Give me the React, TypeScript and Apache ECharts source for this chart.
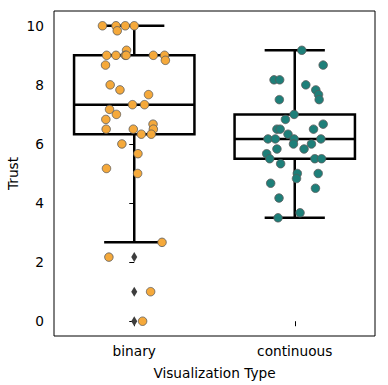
import React, { useEffect, useRef } from "react";
import * as echarts from "echarts";

const categories = ["binary", "continuous"];

const binaryTrust = [
  10, 10, 9.83, 10, 10, 9.17, 9, 9, 9, 9, 9, 9, 8.83, 8.67, 8, 7.83, 7.67, 7.33,
  7.33, 7.17, 7, 6.83, 6.5, 6.67, 6.5, 6.5, 6.33, 6.33, 6, 5.67, 5.17, 5, 2.67,
  2.17, 1, 0,
];
const binaryJitter = [
  -0.198, -0.114, -0.106, -0.056, 0.0, -0.048, -0.172, -0.114, -0.056, -0.05,
  0.119, 0.189, 0.194, -0.179, -0.15, -0.089, 0.089, -0.011, 0.064, -0.154,
  -0.111, -0.177, -0.175, 0.117, 0.119, -0.006, 0.044, 0.106, -0.077, 0.023,
  -0.173, 0.021, 0.173, -0.158, 0.102, 0.052,
];

const continuousTrust = [
  9.17, 8.67, 8.17, 8.17, 8, 7.83, 7.67, 7.5, 7.5, 7, 6.83, 6.67, 6.5, 6.5, 6.5,
  6.33, 6.17, 6.17, 6.17, 6.17, 6, 6, 5.83, 5.83, 5.67, 5.5, 5.5, 5.5, 5.33, 5,
  5, 4.83, 4.67, 4.5, 4.17, 3.67, 3.5,
];
const continuousJitter = [
  0.044, 0.177, -0.129, -0.094, 0.069, 0.131, 0.148, 0.152, -0.096, -0.004,
  -0.058, 0.177, -0.111, -0.091, 0.117, -0.042, -0.167, -0.121, -0.004, 0.163,
  -0.008, 0.104, -0.111, 0.058, -0.175, -0.156, 0.125, 0.167, -0.088, 0.016,
  0.146, 0.011, -0.15, 0.129, -0.098, 0.033, -0.104,
];

const yTicks = [0, 2, 4, 6, 8, 10];

const pointColors = ["#F5A93B", "#1E7F79"];
const FONT = "DejaVu Sans";
const FS = 13.7;

function quantile(sorted: number[], q: number) {
  const pos = (sorted.length - 1) * q;
  const lo = Math.floor(pos);
  const hi = Math.ceil(pos);
  return sorted[lo] + (sorted[hi] - sorted[lo]) * (pos - lo);
}

function boxStats(values: number[]) {
  const s = [...values].sort((a, b) => a - b);
  const q1 = quantile(s, 0.25);
  const med = quantile(s, 0.5);
  const q3 = quantile(s, 0.75);
  const iqr = q3 - q1;
  const lf = q1 - 1.5 * iqr;
  const uf = q3 + 1.5 * iqr;
  const inside = s.filter((v) => v >= lf && v <= uf);
  const low = inside[0];
  const high = inside[inside.length - 1];
  const outliers = s.filter((v) => v < lf || v > uf);
  return { low, q1, med, q3, high, outliers };
}

export default function App() {
  const ref = useRef<HTMLDivElement>(null);

  useEffect(() => {
    if (!ref.current) return;
    document.body.style.margin = "0";
    const chart = echarts.init(ref.current, null, { renderer: "svg" });

    const groups = [binaryTrust, continuousTrust];
    const jitters = [binaryJitter, continuousJitter];
    const stats = groups.map(boxStats);

    const boxData = stats.map((st, i) => [i, st.low, st.q1, st.med, st.q3, st.high]);
    const outlierData: number[][] = [];
    stats.forEach((st, i) => st.outliers.forEach((v) => outlierData.push([i, v])));

    const pointSeries = groups.map((vals, gi) => ({
      type: "scatter",
      xAxisIndex: 1,
      yAxisIndex: 0,
      z: 4,
      symbol: "circle",
      symbolSize: 8.5,
      itemStyle: {
        color: pointColors[gi],
        borderColor: "#595959",
        borderWidth: 0.8,
        opacity: 1,
      },
      data: vals.map((v, k) => [gi + jitters[gi][k], v]),
    }));

    const LW = 2.5;
    const option: any = {
      animation: false,
      grid: {
        left: 54,
        right: 13,
        top: 11,
        bottom: 49,
        containLabel: false,
        outerBoundsMode: "none",
        show: true,
        borderColor: "#000",
        borderWidth: 1,
        backgroundColor: "transparent",
      },
      xAxis: [
        {
          type: "category",
          data: categories,
          boundaryGap: true,
          name: "Visualization Type",
          nameLocation: "middle",
          nameGap: 30,
          nameMoveOverlap: false,
          nameTextStyle: { fontFamily: FONT, fontSize: FS, color: "#000" },
          axisLine: { show: false },
          axisTick: { show: true, alignWithLabel: true, length: 5, lineStyle: { color: "#000" } },
          axisLabel: { fontFamily: FONT, fontSize: FS, color: "#000", margin: 8 },
          splitLine: { show: false },
        },
        {
          type: "value",
          min: -0.5,
          max: 1.5,
          show: false,
          splitLine: { show: false },
        },
      ],
      yAxis: [
        {
          type: "value",
          min: -0.5,
          max: 10.5,
          name: "Trust",
          nameLocation: "middle",
          nameGap: 34,
          nameMoveOverlap: false,
          nameTextStyle: { fontFamily: FONT, fontSize: FS, color: "#000" },
          axisLine: { show: false },
          axisTick: { show: true, length: 5, customValues: yTicks, lineStyle: { color: "#000" } },
          axisLabel: { fontFamily: FONT, fontSize: FS, color: "#000", margin: 10, customValues: yTicks },
          splitLine: { show: false },
        },
      ],
      series: [
        {
          type: "custom",
          xAxisIndex: 1,
          yAxisIndex: 0,
          z: 2,
          encode: { x: 0, y: [1, 2, 3, 4, 5] },
          data: boxData,
          renderItem: (params: any, api: any) => {
            const x = api.value(0);
            const pLow = api.coord([x, api.value(1)]);
            const pQ1 = api.coord([x, api.value(2)]);
            const pMed = api.coord([x, api.value(3)]);
            const pQ3 = api.coord([x, api.value(4)]);
            const pHigh = api.coord([x, api.value(5)]);
            const half = api.size([0.375, 0])[0];
            const cap = half / 2;
            const cx = pMed[0];
            const st = { stroke: "#000", lineWidth: LW, fill: "none" };
            return {
              type: "group",
              children: [
                {
                  type: "rect",
                  shape: { x: cx - half, y: pQ3[1], width: half * 2, height: pQ1[1] - pQ3[1] },
                  style: { fill: "#fff", stroke: "#000", lineWidth: LW },
                },
                { type: "line", shape: { x1: cx - half, y1: pMed[1], x2: cx + half, y2: pMed[1] }, style: st },
                { type: "line", shape: { x1: cx, y1: pQ3[1], x2: cx, y2: pHigh[1] }, style: st },
                { type: "line", shape: { x1: cx, y1: pQ1[1], x2: cx, y2: pLow[1] }, style: st },
                { type: "line", shape: { x1: cx - cap, y1: pHigh[1], x2: cx + cap, y2: pHigh[1] }, style: st },
                { type: "line", shape: { x1: cx - cap, y1: pLow[1], x2: cx + cap, y2: pLow[1] }, style: st },
              ],
            };
          },
        },
        {
          type: "scatter",
          xAxisIndex: 1,
          yAxisIndex: 0,
          z: 3,
          symbol: "diamond",
          symbolSize: [6, 10],
          itemStyle: { color: "#3d3d3d", opacity: 1 },
          data: outlierData,
        },
        ...pointSeries,
      ],
    };

    chart.setOption(option);
    return () => chart.dispose();
  }, []);

  return <div ref={ref} style={{ width: 388, height: 385 }} />;
}
